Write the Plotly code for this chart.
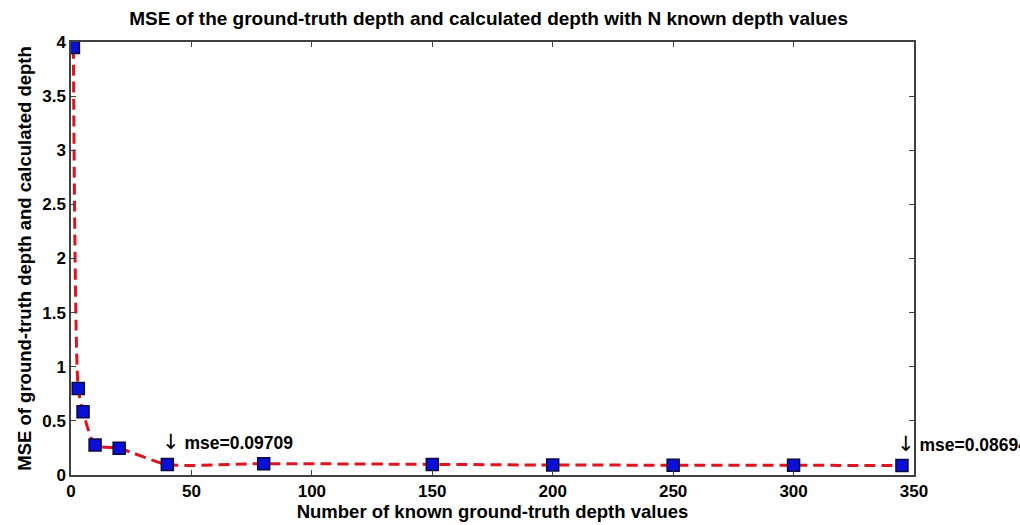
import plotly.graph_objects as go

# Number of known depth values and the resulting MSE
n_known = [1, 3, 5, 10, 20, 40, 80, 150, 200, 250, 300, 345]
mse = [3.95, 0.80, 0.585, 0.277, 0.247, 0.09709, 0.105, 0.098, 0.092, 0.091, 0.090, 0.08694]

# Axis ticks
x_ticks = [0, 50, 100, 150, 200, 250, 300, 350]
y_ticks = [0, 0.5, 1, 1.5, 2, 2.5, 3, 3.5, 4]
y_tick_labels = ["0", "0.5", "1", "1.5", "2", "2.5", "3", "3.5", "4"]

# Data tips shown on the curve
tip_x = [40, 345]
tip_y = [0.09709, 0.08694]
tip_label = ["mse=0.09709", "mse=0.08694"]

font_family = "Liberation Sans, Arial, sans-serif"

fig = go.Figure()
fig.add_trace(go.Scatter(
    x=n_known, y=mse, mode="lines+markers",
    line=dict(color="#e0141e", width=3, dash="11px,6px", shape="spline", smoothing=0.6),
    marker=dict(symbol="square", size=12, color="#0b10d8",
                line=dict(color="#0a0a40", width=1.5)),
    showlegend=False,
))

for x, y, t in zip(tip_x, tip_y, tip_label):
    fig.add_annotation(
        x=x, y=y,
        text="<span style='font-family:DejaVu Sans;font-size:21px'>↓</span> <b>" + t + "</b>",
        showarrow=False, xanchor="left", yanchor="bottom", xshift=-7, yshift=8,
        font=dict(size=17.5, color="black", family=font_family))

axis_common = dict(showline=True, linecolor="#404040", linewidth=1.5, mirror="ticks",
                   ticks="inside", ticklen=5, tickcolor="#404040", showgrid=False,
                   zeroline=False,
                   tickfont=dict(size=17, color="black", family=font_family))

fig.update_layout(
    width=1020, height=525,
    margin=dict(l=71, r=106, t=42, b=50),
    paper_bgcolor="white", plot_bgcolor="white",
    title=dict(text="<b>MSE of the ground-truth depth and calculated depth with N known depth values</b>",
               x=0.479, xanchor="center", y=0.966, yanchor="middle",
               font=dict(size=19, color="black", family=font_family)),
    xaxis=dict(range=[0, 350], tickvals=x_ticks,
               ticktext=["<b>%d</b>" % v for v in x_ticks],
               title=dict(text="<b>Number of known ground-truth depth values</b>", standoff=0,
                          font=dict(size=18.5, color="black", family=font_family)),
               **axis_common),
    yaxis=dict(range=[0, 4], tickvals=y_ticks,
               ticktext=["<b>%s</b>" % s for s in y_tick_labels],
               title=dict(text="<b>MSE of ground-truth depth and calculated depth</b>", standoff=6,
                          font=dict(size=18.5, color="black", family=font_family)),
               **axis_common),
)

fig.write_html("out.html")
